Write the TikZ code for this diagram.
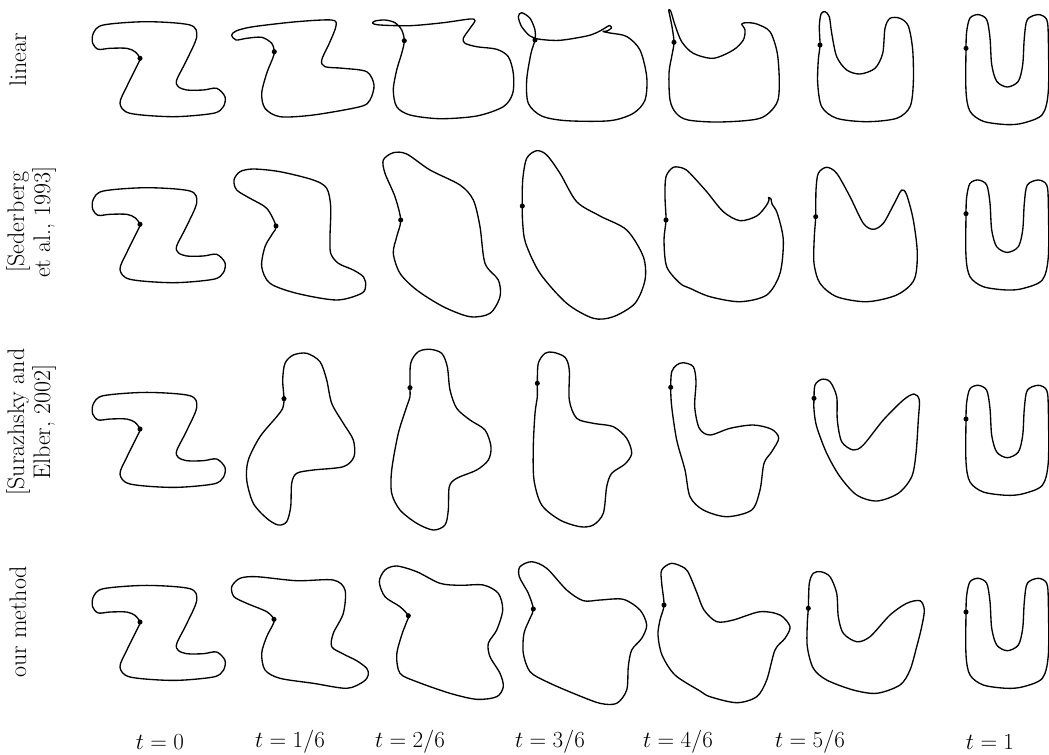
\documentclass[tikz,border=0pt]{standalone}
\usepackage{amsmath}
\usepackage{tikz}

% shapes that repeat in every row, given relative to their marked point
\newcommand{\zcurve}{(-46.7,-25) (-36.7,-33.3) (6.7,-36.6) (50,-33.3) (56.7,-21.6) (46.7,1.7) (36.7,21.7) (38.3,28.4) (46.7,31.7) (63.3,31.7) (76.7,30) (85,38.4) (83.3,48.4) (73.3,55) (33.3,58.4) (-10,55) (-20,45) (-13.3,28.4) (-1.7,5) (0,0) (-5,-6.6) (-13.3,-10) (-30,-10) (-41.7,-9) (-47.3,-15)}
\newcommand{\ucurve}{(0,0) (0.7,-17) (4,-30.3) (12.3,-33.7) (20.7,-28.7) (24,-10.3) (25.7,16.3) (30.7,33) (41.3,38.7) (52.3,33) (56.7,16.3) (58.3,-10.3) (61.3,-28.7) (72.3,-33.7) (80.7,-28.7) (82.3,-10.3) (82.3,43) (76.3,66.3) (57.3,74.7) (40.7,76.3) (17.3,73) (4,63) (0,43)}

\begin{document}
\begin{tikzpicture}[x=0.75pt, y=-0.75pt,
  curve/.style={line width=1pt, line join=round},
  pin/.style={circle, fill, inner sep=0pt, minimum size=3.8pt},
  rowlabel/.style={rotate=90, align=center, font=\fontsize{18}{19.5}\selectfont},
  steplabel/.style={font=\fontsize{18}{20}\selectfont}]
\useasboundingbox (0,0) rectangle (1049,754);

% row labels
\node[rowlabel] (lablin) at (18,60) {linear};
\node[rowlabel] (labsed) at (31,222) {[Sederberg\\et al., 1993]};
\node[rowlabel] (labsur) at (31,422) {[Surazhsky and\\Elber, 2002]};
\node[rowlabel] (labour) at (18,622) {our method};

% t = 0 and t = 1, same in all rows
\foreach \y [count=\i] in {58.3,224.3,429,622} {
  \draw[curve, shift={(140,\y)}] plot[smooth cycle] coordinates {\zcurve};
  \node[pin] (z\i) at (140,\y) {};
}
\foreach \y [count=\i] in {48.3,213.7,419,612} {
  \draw[curve, shift={(966,\y)}] plot[smooth cycle] coordinates {\ucurve};
  \node[pin] (u\i) at (966,\y) {};
}

% linear
\draw[curve] plot[smooth cycle] coordinates {(274.3,51.7) (271.7,43.3) (261.7,37.3) (246.7,38.3) (236,40) (231.7,35) (236.7,30.7) (253.3,26.7) (296.7,21.7) (331.7,20) (336,26) (329.3,43.3) (321.7,60) (325,66.7) (343.3,68.3) (366.7,71.7) (374,85) (370,100) (360,106.7) (313.3,115) (280,116.7) (265,108.3) (261.7,93.3) (266.7,73.3) (272.7,58.3)};
\node[pin] (lin1) at (274.3,51.7) {};
\draw[curve] plot[smooth cycle] coordinates {(404.3,40.7) (401.7,30) (395,22.7) (385,20) (375,21) (372.7,23.3) (380,25) (410,25.7) (443.3,22.7) (470,19) (475,20.7) (470,28.3) (463.3,38.3) (465,43.3) (476.7,46.7) (496.7,49.3) (508.3,56.7) (513.3,73.3) (512.7,93.3) (503.3,106.7) (476.7,116) (440,118.7) (410,115) (396.7,106.7) (393.3,90) (396.7,70) (401.7,53.3)};
\node[pin] (lin2) at (404.3,40.7) {};
\draw[curve] plot[smooth cycle] coordinates {(535,40) (535,30) (530,18.3) (521.7,12.7) (518.3,16.7) (521.7,26.7) (530,36) (540,39.3) (560,40.3) (586.7,36) (598,32) (605,28) (609.5,25.5) (611.5,28) (607,31) (603,31.5) (610,33) (626.7,36.5) (640,50) (646.7,76.7) (645,100) (633.3,113.3) (610,120.7) (566.7,120.7) (541.7,116) (528.3,103.3) (526.7,80) (531,53.3)};
\node[pin] (lin3) at (535,40) {};
\draw[curve] plot[smooth cycle] coordinates {(674,42.3) (672,26.7) (669.3,13.3) (668.7,10) (670.7,11) (675,25) (681.7,41.7) (693.3,53.3) (713.3,58.3) (733.3,50) (743.3,40) (745,30) (741.7,24) (746.7,22.7) (756.7,24) (770,31.7) (777.3,53.3) (779.3,83.3) (776.7,103.3) (760,118.3) (720,122) (688,120) (676,113) (670,100) (669,73) (672,55)};
\node[pin] (lin4) at (674,42.3) {};
\draw[curve] plot[smooth cycle] coordinates {(820,45) (819.3,26.7) (821,14) (825,11.7) (829.3,16.7) (831.7,33.3) (836.7,56.7) (846.7,70) (860,74) (875,68.3) (882.7,53.3) (885,28.3) (890,18.3) (900,18.3) (908.3,26) (912.7,50) (913.3,83.3) (910,106.7) (896.7,118.3) (866.7,121.7) (836.7,118.3) (821.7,106.7) (817.7,83.3) (818.3,60)};
\node[pin] (lin5) at (820,45) {};

% Sederberg et al.
\draw[curve] plot[smooth cycle] coordinates {(276,226) (266.7,208.3) (250,198.3) (236.7,190) (234,180) (240,171.7) (253.3,169) (280,171.7) (313.3,180) (326.7,188.3) (330.7,206.7) (330,236.7) (330.7,253.3) (338.3,263.3) (353.3,270) (363.3,276.7) (365.7,285) (361.7,293.3) (336.7,300) (296.7,293.3) (270,283.3) (261.7,266.7) (265,246.7) (272.7,233.3)};
\node[pin] (sed1) at (276,226) {};
\draw[curve] plot[smooth cycle] coordinates {(400.7,220) (395,196.7) (385,173.3) (383.3,160) (393.3,152.7) (406.7,154) (430,170) (460,185) (473.3,200) (480,226.7) (485,263.3) (498.3,280) (500,296.7) (490,313.3) (470,316.7) (443.3,306.7) (416.7,290) (400,273.3) (393.3,253.3) (396.7,236.7)};
\node[pin] (sed2) at (400.7,220) {};
\draw[curve] plot[smooth cycle] coordinates {(522.3,206) (522.7,180) (526.7,158.3) (536.7,150.7) (546.7,155) (560,173.3) (576.7,201.7) (600,216) (626.7,230) (643.3,256.7) (645,280) (635,303.3) (613.3,316.7) (593.3,318.3) (566.7,303.3) (540,273.3) (525.7,243.3) (522.7,223.3)};
\node[pin] (sed3) at (522.3,206) {};
\draw[curve] plot[smooth cycle] coordinates {(666,220) (665,196.7) (666,176.7) (673.3,167.3) (683.3,168.3) (690,173.3) (706.7,191.7) (723.3,211.7) (740,220.7) (756.7,216) (766,206) (769,200) (768.5,197.5) (771,199) (772,204) (777.3,213.3) (783.3,240) (780,273.3) (766.7,295) (740,301.7) (710,296.7) (690,288.3) (680,283.3) (666.7,266.7) (664,240)};
\node[pin] (sed4) at (666,220) {};
\draw[curve] plot[smooth cycle] coordinates {(815.7,216.7) (816,190) (818.3,173.3) (826.7,167.3) (836.7,173.3) (850,196.7) (863.3,223.3) (873.3,229.3) (883.3,223.3) (894,204) (901.7,190) (906.7,195) (913.3,220) (917.3,253.3) (914,280) (896.7,295) (866.7,301.7) (836.7,296.7) (820,283.3) (814,263.3) (814.3,236.7)};
\node[pin] (sed5) at (815.7,216.7) {};

% Surazhsky and Elber
\draw[curve] plot[smooth cycle] coordinates {(284,398.7) (282.7,380) (285,363.3) (293.3,355) (306.7,353.3) (320,361.7) (326.7,380) (331.7,403.3) (343.3,423.3) (353.3,440) (354,456.7) (343.3,466.7) (313.3,470) (296.7,473.3) (291.7,483.3) (290.7,506.7) (286.7,521.7) (278.3,525) (266.7,518.3) (253.3,503.3) (246.7,480) (248.3,460) (260,436.7) (276.7,416.7) (282.7,408.3)};
\node[pin] (sur1) at (284,398.7) {};
\draw[curve] plot[smooth cycle] coordinates {(410,387.7) (410.7,363.3) (418.3,351.7) (430,349.3) (441.7,353.3) (447.3,366.7) (450,390) (456.7,408.3) (470,420) (485,430) (491,446.7) (488.3,460) (476.7,470) (456.7,478.3) (449.3,486.7) (448.3,510) (445,525) (433.3,530) (416.7,523.3) (400,510) (391.7,493.3) (391.7,470) (398.3,433.3) (406.7,406.7) (410,396.7)};
\node[pin] (sur2) at (410,387.7) {};
\draw[curve] plot[smooth cycle] coordinates {(537.3,383.3) (538.3,363.3) (545,353.3) (553.3,352.3) (565,357.3) (569.3,370) (569.3,400) (576.7,418.3) (593.3,423.3) (613.3,426.7) (626.7,438.3) (631.7,453.3) (625,464) (611.7,473.3) (606.7,486.7) (603.3,513.3) (593.3,525) (580,526.7) (560,520) (541.7,505) (534,480) (533.3,446.7) (535,413.3) (537.3,396.7)};
\node[pin] (sur3) at (537.3,383.3) {};
\draw[curve] plot[smooth cycle] coordinates {(670.7,387.3) (671.7,371.7) (676.7,365) (683.3,362.7) (693.3,366.7) (696,381.7) (694.7,406.7) (699.3,428.3) (710,435) (730,428.3) (753.3,425) (771.7,429.3) (778.7,438.3) (771.7,451.7) (764,463.3) (760,490) (751.7,510) (726.7,516.7) (703.3,510) (690,496.7) (685,470) (676.7,440) (671.7,406.7)};
\node[pin] (sur4) at (670.7,387.3) {};
\draw[curve] plot[smooth cycle] coordinates {(814,398.3) (815,385) (821.7,379.3) (830,381.7) (836.7,396.7) (837.3,420) (841.7,441.7) (853.3,450) (863.3,445) (883.3,420) (903.3,400) (914,394) (919.3,400) (918.3,420) (916,453.3) (911.7,476.7) (898.3,493.3) (876.7,501) (856.7,495) (840,476.7) (826.7,453.3) (816.7,426.7) (814,410)};
\node[pin] (sur5) at (814,398.3) {};

% our method
\draw[curve] plot[smooth cycle] coordinates {(274,619.3) (266.7,611.7) (246.7,603.3) (234,596.7) (231.7,586.7) (240,578.3) (256.7,576.7) (296.7,580.7) (333.3,580) (345,590) (343.3,613.3) (333.3,633.3) (331.7,646.7) (343.3,654) (356.7,660.7) (366.7,668.3) (368.3,675) (363.3,681.7) (346.7,688.3) (313.3,683.3) (280,678.3) (265,670) (261.7,653.3) (266.7,636.7) (272.7,625)};
\node[pin] (our1) at (274,619.3) {};
\draw[curve] plot[smooth cycle] coordinates {(408.3,615.7) (400,606.7) (385,596.7) (379.3,581.7) (385,570) (396.7,566) (416.7,571.7) (440,583.3) (460,585.3) (483.3,585) (498.3,593.3) (502.7,610) (496.7,630) (488.3,643.3) (490,656.7) (500,673.3) (503.3,686.7) (496.7,696.7) (476.7,699.3) (450,693.3) (416.7,681.7) (400,673.3) (396.7,655) (401.7,635) (406.7,621.7)};
\node[pin] (our2) at (408.3,615.7) {};
\draw[curve] plot[smooth cycle] coordinates {(533.3,609) (528.3,593.3) (519.3,576.7) (520,566.7) (531.7,561.7) (546.7,568.3) (566.7,590) (583.3,600.7) (600,600) (623.3,599.3) (640,610) (646.7,625) (641.7,638.3) (631.7,650) (628.3,666.7) (626.7,690) (616.7,703.3) (600,703.3) (573.3,693.3) (546.7,681.7) (530,671.7) (523.3,653.3) (524,633.3) (530,618.3)};
\node[pin] (our3) at (533.3,609) {};
\draw[curve] plot[smooth cycle] coordinates {(664,605) (661.7,583.3) (661.7,570) (671.7,563.3) (685,568.3) (690,576) (697,593) (704,610) (716.7,621.7) (733.3,620) (760,611.7) (780,615) (790,626.7) (785,638.3) (775,650) (766.7,680) (756.7,696.7) (736.7,702.7) (710,696.7) (700,691) (675,675) (662,655) (658,635) (660,620)};
\node[pin] (our4) at (664,605) {};
\draw[curve] plot[smooth cycle] coordinates {(808.3,608.3) (809.3,583.3) (813.3,573.3) (820.7,571.7) (830,576.7) (836.7,593.3) (838.3,616.7) (843.3,633.3) (856.7,641.7) (870,636.7) (890,615) (906.7,603.3) (920,600.7) (924.3,610) (921.7,626.7) (916.7,646.7) (910,670) (900,685) (876.7,693.3) (853.3,690) (826.7,680) (813.3,668.3) (807.3,646.7) (807.3,623.3)};
\node[pin] (our5) at (808.3,608.3) {};

% time steps
\foreach \x/\t [count=\i] in {160/{0}, 290/{1/6}, 410/{2/6}, 550/{3/6}, 678/{4/6}, 810/{5/6}, 990/{1}}
  \node[steplabel] (step\i) at (\x,742) {$t=\t$};
\end{tikzpicture}
\end{document}
